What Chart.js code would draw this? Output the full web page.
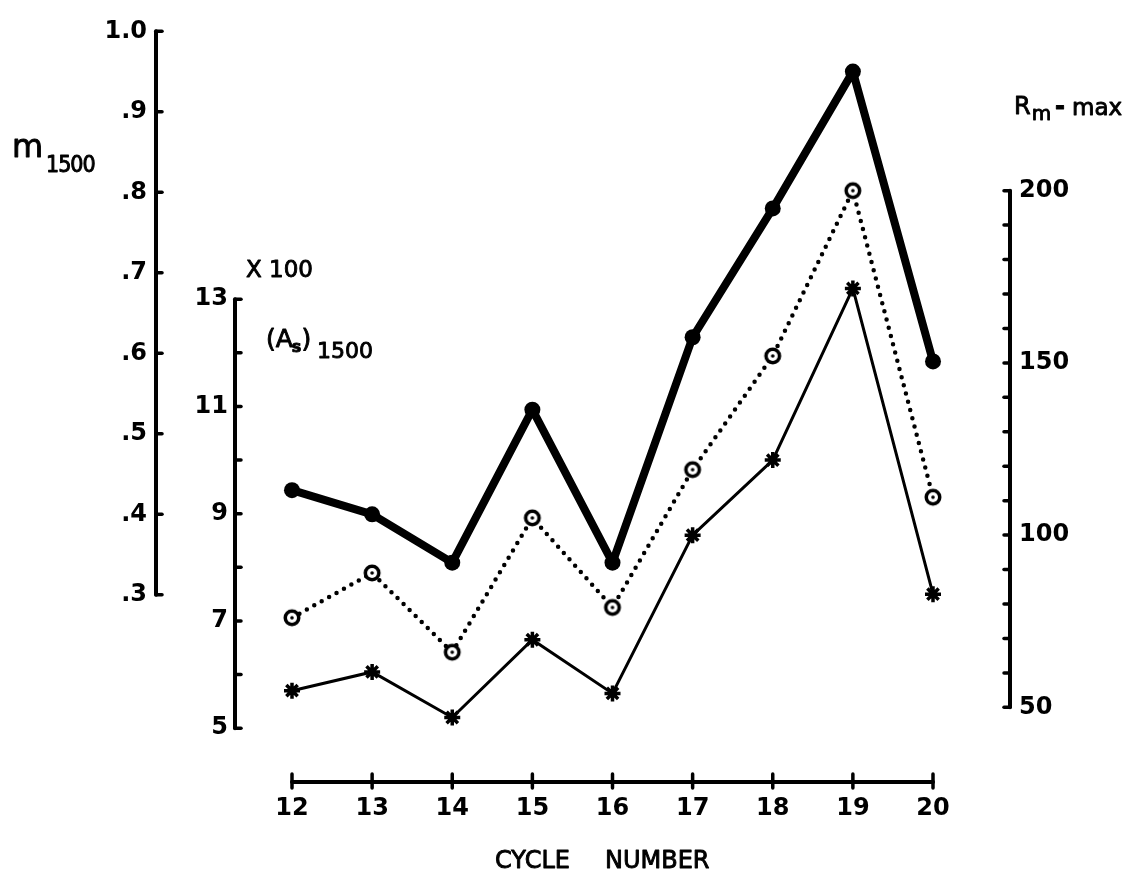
<!DOCTYPE html>
<html>
<head>
<meta charset="utf-8">
<title>Cycle number plot</title>
<script src="https://cdn.jsdelivr.net/npm/chart.js@4.4.1/dist/chart.umd.min.js"></script>
<style>
  html, body { margin: 0; padding: 0; background: #fff; }
  canvas { display: block; }
</style>
</head>
<body>
<canvas id="chart" width="1129" height="874"></canvas>
<script>
// ---- data ----
const cycles = [12, 13, 14, 15, 16, 17, 18, 19, 20];
const m1500  = [0.43, 0.40, 0.34, 0.53, 0.34, 0.62, 0.78, 0.95, 0.59];   // heavy line, left axis
const as1500 = [5.7, 6.05, 5.2, 6.65, 5.65, 8.6, 10.0, 13.2, 7.5];      // thin line, (As)1500 x 100
const rmMax  = [76, 89, 66, 105, 79, 119, 152, 200, 111];               // dotted line, right axis

// ---- tick values ----
const mTicks  = [0.3, 0.4, 0.5, 0.6, 0.7, 0.8, 0.9, 1.0];
const asTicks = [5, 6, 7, 8, 9, 10, 11, 12, 13];
const rmTicks = [50, 60, 70, 80, 90, 100, 110, 120, 130, 140, 150, 160, 170, 180, 190, 200];

// ---- frame geometry (pixels) ----
const AREA = { top: 20, bottom: 782, left: 235, right: 1010 };
const W = 1129, H = 874;

// value range of a scale so that two anchor values land on given pixels
function rangeFor(v1, p1, v2, p2, pMin, pMax) {
  const k = (p2 - p1) / (v2 - v1);
  return { min: v1 + (pMin - p1) / k, max: v1 + (pMax - p1) / k };
}
const xr = rangeFor(12, 292, 20, 933, AREA.left, AREA.right);
const mr = rangeFor(1.0, 28, 0.3, 594, AREA.bottom, AREA.top);
const ar = rangeFor(13, 297, 5, 728, AREA.bottom, AREA.top);
const rr = rangeFor(200, 188, 50, 707, AREA.bottom, AREA.top);

const pts = (ys) => cycles.map((c, i) => ({ x: c, y: ys[i] }));
const asTickList = (vals) => (s) => { s.ticks = vals.map(v => ({ value: v })); };

const tickFont = { family: 'DejaVu Sans', size: 24, weight: 'bold' };

// ringed-dot marker
function ringMarker() {
  const c = document.createElement('canvas');
  c.width = c.height = 20;
  const g = c.getContext('2d');
  g.fillStyle = '#000'; g.beginPath(); g.arc(10, 10, 8.5, 0, Math.PI * 2); g.fill();
  g.fillStyle = '#fff'; g.beginPath(); g.arc(10, 10, 5, 0, Math.PI * 2); g.fill();
  g.fillStyle = '#000'; g.beginPath(); g.arc(10, 10, 1.8, 0, Math.PI * 2); g.fill();
  return c;
}

// axis spines and tick marks, drawn from each scale's own ticks
const axisStrokes = {
  id: 'axisStrokes',
  beforeDatasetsDraw(chart) {
    const ctx = chart.ctx;
    const { x, yM, yA, yR } = chart.scales;
    ctx.save();
    ctx.strokeStyle = '#000';
    ctx.lineCap = 'round';
    const vertical = (scale, px, dir) => {
      const vals = scale.ticks.map(t => t.value);
      ctx.lineWidth = 4;
      ctx.beginPath();
      ctx.moveTo(px, scale.getPixelForValue(Math.max(...vals)));
      ctx.lineTo(px, scale.getPixelForValue(Math.min(...vals)));
      ctx.stroke();
      ctx.lineWidth = 3.5;
      vals.forEach(v => {
        const py = scale.getPixelForValue(v);
        ctx.beginPath(); ctx.moveTo(px, py); ctx.lineTo(px + dir * 6, py); ctx.stroke();
      });
    };
    vertical(yM, yM.right, 1);
    vertical(yA, yA.right, 1);
    vertical(yR, yR.left, -1);

    const xv = x.ticks.map(t => t.value);
    const py = x.top;
    ctx.lineWidth = 4;
    ctx.beginPath();
    ctx.moveTo(x.getPixelForValue(Math.min(...xv)), py);
    ctx.lineTo(x.getPixelForValue(Math.max(...xv)), py);
    ctx.stroke();
    ctx.lineWidth = 3.5;
    xv.forEach(v => {
      const px = x.getPixelForValue(v);
      ctx.beginPath(); ctx.moveTo(px, py - 8); ctx.lineTo(px, py + 6); ctx.stroke();
    });
    ctx.restore();
  }
};

// axis captions (lettering slightly thickened with a thin outline)
const captions = {
  id: 'captions',
  afterDraw(chart) {
    const ctx = chart.ctx;
    ctx.save();
    ctx.fillStyle = '#000';
    ctx.strokeStyle = '#000';
    ctx.lineWidth = 0.9;
    ctx.lineJoin = 'round';
    ctx.textBaseline = 'alphabetic';
    ctx.textAlign = 'left';
    const put = (txt, x, y, font, spacing) => {
      ctx.font = font;
      ctx.letterSpacing = spacing || '0px';
      ctx.fillText(txt, x, y);
      ctx.strokeText(txt, x, y);
      const w = ctx.measureText(txt).width;
      ctx.letterSpacing = '0px';
      return x + w;
    };

    // m1500
    put('m', 12, 157, '32px "DejaVu Sans"');
    put('1500', 46, 172, '23px "DejaVu Sans Condensed"', '-1px');

    // X 100 and (As)1500
    put('X 100', 246, 277, '23px "DejaVu Sans"');
    let cx = put('(', 266, 347, '25px "DejaVu Sans"');
    cx = put('A', cx, 347, '25px "DejaVu Sans"');
    cx = put('s', cx - 1, 352, 'bold 16px "DejaVu Sans"');
    cx = put(')', cx, 347, '25px "DejaVu Sans"');
    put('1500', 317, 358, '22px "DejaVu Sans"');

    // Rm-max
    cx = put('R', 1014, 114, '24px "DejaVu Sans"');
    cx = put('m', cx + 1, 120, '20px "DejaVu Sans"');
    put('-', 1055, 114, 'bold 24px "DejaVu Sans"');
    put('max', 1072, 115, '23px "DejaVu Sans"');

    // CYCLE NUMBER
    put('CYCLE', 495, 868, '24px "DejaVu Sans"');
    put('NUMBER', 605, 868, '24px "DejaVu Sans"');
    ctx.restore();
  }
};

new Chart(document.getElementById('chart'), {
  type: 'line',
  data: {
    datasets: [
      {
        label: 'm1500',
        data: pts(m1500),
        yAxisID: 'yM',
        borderColor: '#000',
        borderWidth: 8,
        borderJoinStyle: 'round',
        borderCapStyle: 'round',
        pointStyle: 'circle',
        pointRadius: 8,
        pointBackgroundColor: '#000',
        pointBorderWidth: 0,
        tension: 0
      },
      {
        label: 'Rm-max',
        data: pts(rmMax),
        yAxisID: 'yR',
        borderColor: '#000',
        borderWidth: 4.5,
        borderDash: [0, 8.5],
        borderCapStyle: 'round',
        pointStyle: ringMarker(),
        pointRadius: 9,
        tension: 0
      },
      {
        label: '(As)1500',
        data: pts(as1500),
        yAxisID: 'yA',
        borderColor: '#000',
        borderWidth: 3,
        pointStyle: 'star',
        pointRadius: 8,
        pointBorderColor: '#000',
        pointBorderWidth: 3.5,
        tension: 0
      }
    ]
  },
  options: {
    responsive: false,
    animation: false,
    layout: { padding: { top: AREA.top, left: 0, right: 0, bottom: 0 } },
    plugins: { legend: { display: false }, tooltip: { enabled: false }, title: { display: false } },
    scales: {
      x: {
        type: 'linear',
        position: 'bottom',
        min: xr.min, max: xr.max,
        afterBuildTicks: asTickList(cycles),
        afterFit: (s) => { s.height = H - AREA.bottom; },
        grid: { display: false, drawTicks: false },
        border: { display: false },
        ticks: { font: tickFont, color: '#000', padding: 12, autoSkip: false, maxRotation: 0,
                 callback: (v) => String(v) }
      },
      yM: {
        type: 'linear',
        position: 'left',
        weight: 2,
        min: mr.min, max: mr.max,
        afterBuildTicks: asTickList(mTicks),
        afterFit: (s) => { s.width = 156; },
        grid: { display: false, drawTicks: false },
        border: { display: false },
        ticks: { font: tickFont, color: '#000', padding: 9, autoSkip: false,
                 callback: (v) => (v >= 1 ? '1.0' : '.' + Math.round(v * 10)) }
      },
      yA: {
        type: 'linear',
        position: 'left',
        weight: 1,
        min: ar.min, max: ar.max,
        afterBuildTicks: asTickList(asTicks),
        afterFit: (s) => { s.width = AREA.left - 156; },
        grid: { display: false, drawTicks: false },
        border: { display: false },
        ticks: { font: tickFont, color: '#000', padding: 7, autoSkip: false,
                 callback: (v) => (v % 2 ? String(v) : '') }
      },
      yR: {
        type: 'linear',
        position: 'right',
        min: rr.min, max: rr.max,
        afterBuildTicks: asTickList(rmTicks),
        afterFit: (s) => { s.width = W - AREA.right; },
        grid: { display: false, drawTicks: false },
        border: { display: false },
        ticks: { font: tickFont, color: '#000', padding: 9, autoSkip: false,
                 callback: (v) => (v % 50 === 0 ? String(v) : '') }
      }
    }
  },
  plugins: [axisStrokes, captions]
});
</script>
</body>
</html>
